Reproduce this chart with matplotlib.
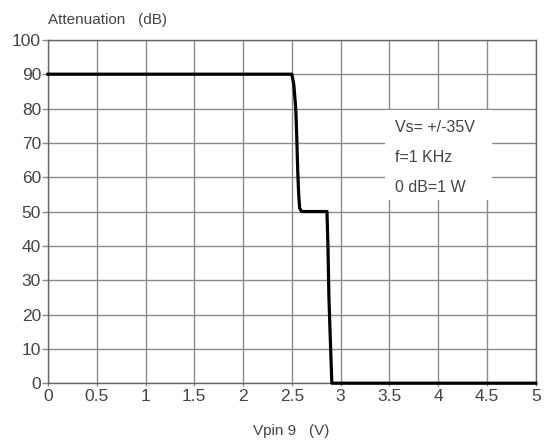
import matplotlib.pyplot as plt
from matplotlib.patches import Rectangle

# attenuation vs. mute pin voltage
vpin = [0, 2.50, 2.52, 2.54, 2.55, 2.56, 2.57, 2.58, 2.60, 2.86, 2.87, 2.88, 2.90, 2.91, 5.0]
atten = [90, 90, 87, 80, 72, 62, 55, 51, 50, 50, 40, 25, 8, 0, 0]

x_ticks = [0, 0.5, 1, 1.5, 2, 2.5, 3, 3.5, 4, 4.5, 5]
x_labels = ['0', '0.5', '1', '1.5', '2', '2.5', '3', '3.5', '4', '4.5', '5']
y_ticks = list(range(0, 101, 10))

notes = ['Vs= +/-35V', 'f=1 KHz', '0 dB=1 W']

plt.rcParams['font.family'] = ['Liberation Sans', 'DejaVu Sans']

fig = plt.figure(figsize=(5.45, 4.43), dpi=100)
ax = fig.add_axes([0.088, 0.135, 0.895, 0.775])

txt = '#444444'
grid = '#8a8a8a'

ax.set_xlim(0, 5)
ax.set_ylim(0, 100)
ax.set_xticks(x_ticks)
ax.set_xticklabels(x_labels)
ax.set_yticks(y_ticks)
ax.grid(True, color=grid, linewidth=1.0)
ax.set_axisbelow(True)
ax.tick_params(axis='both', colors=grid, labelcolor=txt, labelsize=12.5)
ax.tick_params(axis='y', length=4, width=1, pad=1)
ax.tick_params(axis='x', length=2, width=1, pad=2)
for s in ax.spines.values():
    s.set_color('#666666')
    s.set_linewidth(1.0)

# white box behind the notes breaks the grid
ax.add_patch(Rectangle((3.45, 53.4), 1.1, 26.2, facecolor='white',
                       edgecolor='none', zorder=1.5))
for i, s in enumerate(notes):
    ax.text(3.56, 74.5 - i * 8.8, s, fontsize=11.5, color=txt,
            va='center', ha='left', zorder=3)

ax.plot(vpin, atten, color='black', linewidth=2.3, zorder=4,
        solid_joinstyle='round', clip_on=False)

fig.text(0.088, 0.955, 'Attenuation   (dB)', fontsize=11, color=txt,
         ha='left', va='center')
fig.text(0.535, 0.028, 'Vpin 9   (V)', fontsize=11, color=txt,
         ha='center', va='center')

fig.savefig('out.png', dpi=100, facecolor='white')
